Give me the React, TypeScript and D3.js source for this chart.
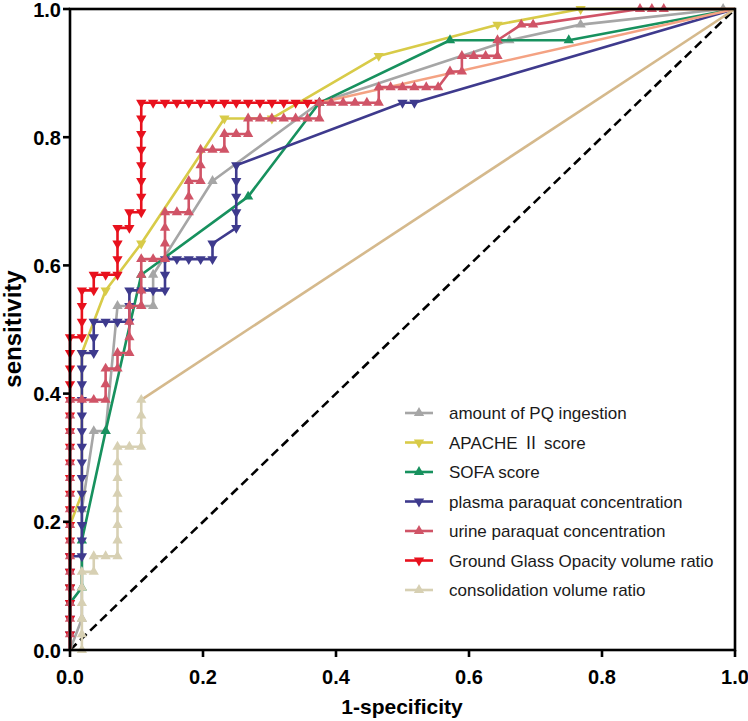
import React from 'react';
import * as d3 from 'd3';

// Totals of negative / positive cases (grid of the ROC steps)
const N_NEG = 56;
const N_POS = 41;

const tickValues = [0, 0.2, 0.4, 0.6, 0.8, 1.0];
const tickLabels = ['0.0', '0.2', '0.4', '0.6', '0.8', '1.0'];

const xTitle = '1-specificity';
const yTitle = 'sensitivity';

// Each point: [false positives, true positives]
const amountPQ: [number, number][] = [
  [0, 0], [1, 2], [1, 9], [2, 14], [3, 14], [4, 22], [5, 22], [6, 22], [7, 22], [7, 24],
  [12, 30], [21, 35], [37, 39], [43, 40], [55, 41], [56, 41],
];

const apache: [number, number][] = [
  [0, 0], [0, 4], [0, 8], [1, 10], [1, 19], [3, 23], [6, 26], [13, 34], [17, 34],
  [26, 38], [36, 40], [43, 41], [56, 41],
];

const sofa: [number, number][] = [
  [0, 0], [0, 3], [1, 4], [1, 7], [3, 14], [6, 24], [15, 29], [21, 35], [32, 39], [42, 39], [56, 41],
];

const plasma: [number, number][] = [
  [0, 0], [0, 1], [0, 2], [0, 3], [0, 4], [0, 5], [0, 6], [1, 6], [1, 7], [1, 8], [1, 9],
  [1, 10], [1, 11], [1, 12], [1, 13], [1, 14], [1, 15], [1, 16], [1, 17], [1, 18], [1, 19],
  [2, 19], [2, 20], [2, 21], [3, 21], [4, 21], [5, 21], [5, 22], [5, 23], [6, 23], [7, 23],
  [8, 23], [8, 24], [8, 25], [9, 25], [10, 25], [11, 25], [12, 25], [12, 26], [14, 27],
  [14, 28], [14, 29], [14, 30], [14, 31], [28, 35], [29, 35], [56, 41],
];

const urine: [number, number][] = [
  [0, 0], [0, 1], [0, 2], [0, 3], [0, 4], [0, 5], [0, 6], [0, 7], [0, 8], [0, 9], [0, 10],
  [0, 11], [0, 12], [0, 13], [0, 14], [0, 15], [0, 16], [1, 16], [2, 16], [3, 16], [3, 17],
  [3, 18], [4, 18], [4, 19], [5, 19], [5, 20], [5, 21], [5, 22], [6, 22], [6, 23], [6, 24],
  [6, 25], [7, 25], [8, 25], [8, 26], [8, 27], [8, 28], [9, 28], [10, 28], [10, 29], [10, 30],
  [11, 30], [11, 31], [11, 32], [12, 32], [13, 32], [13, 33], [14, 33], [15, 33], [15, 34],
  [16, 34], [17, 34], [18, 34], [19, 34], [20, 34], [21, 34], [21, 35], [22, 35], [23, 35],
  [24, 35], [25, 35], [26, 35], [26, 36], [27, 36], [28, 36], [29, 36], [30, 36], [31, 36],
  [32, 37], [33, 37], [33, 38], [34, 38], [35, 38], [36, 38], [36, 39], [38, 40], [39, 40],
  [48, 41], [49, 41], [50, 41], [56, 41],
];

const ggo: [number, number][] = [
  [0, 0], [0, 1], [0, 2], [0, 3], [0, 4], [0, 5], [0, 6], [0, 7], [0, 8], [0, 9], [0, 10],
  [0, 11], [0, 12], [0, 13], [0, 14], [0, 15], [0, 16], [0, 17], [0, 18], [0, 19], [0, 20],
  [1, 20], [1, 21], [1, 22], [1, 23], [2, 23], [2, 24], [3, 24], [4, 24], [4, 25], [4, 26],
  [4, 27], [5, 27], [5, 28], [6, 28], [6, 29], [6, 30], [6, 31], [6, 32], [6, 33], [6, 34],
  [6, 35], [7, 35], [8, 35], [9, 35], [10, 35], [11, 35], [12, 35], [13, 35], [14, 35],
  [15, 35], [16, 35], [17, 35], [18, 35], [19, 35], [20, 35], [21, 35], [56, 41],
];

const consolidation: [number, number][] = [
  [0, 0], [1, 0], [1, 1], [1, 2], [1, 3], [1, 4], [1, 5], [2, 5], [2, 6], [3, 6], [4, 6],
  [4, 7], [4, 8], [4, 9], [4, 10], [4, 11], [4, 12], [4, 13], [5, 13], [6, 13], [6, 14],
  [6, 15], [6, 16], [56, 41],
];

const seriesNames = [
  'amount of PQ ingestion',
  'APACHE \u2161 score',
  'SOFA score',
  'plasma paraquat concentration',
  'urine paraquat concentration',
  'Ground Glass Opacity volume ratio',
  'consolidation volume ratio',
];

type Series = {
  name: string;
  data: [number, number][];
  color: string;
  marker: 'up' | 'down';
  tailColor?: string;
};

const series: Series[] = [
  { name: seriesNames[0], data: amountPQ, color: '#A6A6A6', marker: 'up' },
  { name: seriesNames[1], data: apache, color: '#D8CB48', marker: 'down' },
  { name: seriesNames[2], data: sofa, color: '#17915E', marker: 'up' },
  { name: seriesNames[3], data: plasma, color: '#3E3A8D', marker: 'down' },
  { name: seriesNames[5], data: ggo, color: '#E8111D', marker: 'down', tailColor: '#F4A283' },
  { name: seriesNames[4], data: urine, color: '#D05467', marker: 'up' },
  { name: seriesNames[6], data: consolidation, color: '#D7D0B3', marker: 'up', tailColor: '#D5B98C' },
];

const legendOrder = [0, 1, 2, 3, 5, 4, 6];

const FONT = '"Liberation Sans", Arial, sans-serif';

function LegendText({ name }: { name: string }) {
  const idx = name.indexOf('\u2161');
  if (idx < 0) return <>{name}</>;
  return (
    <>
      {name.slice(0, idx)}
      <tspan fontFamily='"Noto Sans CJK SC", "DejaVu Serif", serif'>{'\u2161'}</tspan>
      {name.slice(idx + 1)}
    </>
  );
}

export default function App() {
  const W = 748;
  const H = 721;
  const x = d3.scaleLinear().domain([0, 1]).range([70, 735]);
  const y = d3.scaleLinear().domain([0, 1]).range([650, 9]);
  const px = (p: [number, number]) => x(p[0] / N_NEG);
  const py = (p: [number, number]) => y(p[1] / N_POS);
  const line = d3.line<[number, number]>().x(px).y(py);
  const tri = d3.symbol().type(d3.symbolTriangle).size(46)() as string;

  const markerPath = (kind: 'up' | 'down', cx: number, cy: number, color: string, key: string) => (
    <path
      key={key}
      d={tri}
      fill={color}
      transform={`translate(${cx},${cy})${kind === 'down' ? ' rotate(180)' : ''}`}
    />
  );

  const legendY0 = 413;
  const legendStep = 29.5;

  return (
    <svg width={W} height={H} style={{ position: 'absolute', left: 0, top: 0, background: '#fff' }}>
      <rect x={0} y={0} width={W} height={H} fill="#fff" />
      {/* chance diagonal */}
      <line
        x1={x(0)} y1={y(0)} x2={x(1)} y2={y(1)}
        stroke="#000" strokeWidth={2.6} strokeDasharray="9,5"
      />
      {series.map((s, si) => {
        const n = s.data.length;
        const main = s.tailColor ? s.data.slice(0, n - 1) : s.data;
        const tail = s.tailColor ? s.data.slice(n - 2) : null;
        return (
          <g key={si}>
            {tail && (
              <path d={line(tail) as string} fill="none" stroke={s.tailColor} strokeWidth={2.6} />
            )}
            <path d={line(main) as string} fill="none" stroke={s.color} strokeWidth={2.6} strokeLinejoin="round" />
            {main.map((p, i) => {
              if ((p[0] === 0 && p[1] === 0) || (p[0] === N_NEG && p[1] === N_POS)) return null;
              return markerPath(s.marker, px(p), py(p), s.color, `m${i}`);
            })}
          </g>
        );
      })}
      {/* frame */}
      <rect x={x(0)} y={y(1)} width={x(1) - x(0)} height={y(0) - y(1)} fill="none" stroke="#000" strokeWidth={2.6} />
      {/* y ticks */}
      {tickValues.map((t, i) => (
        <g key={`yt${i}`}>
          <line x1={x(0) - 7} x2={x(0)} y1={y(t)} y2={y(t)} stroke="#000" strokeWidth={2.6} />
          <text x={x(0) - 9} y={y(t) + 7.5} textAnchor="end" fontFamily={FONT} fontWeight="bold" fontSize={20} fill="#000">
            {tickLabels[i]}
          </text>
        </g>
      ))}
      {/* x ticks */}
      {tickValues.map((t, i) => (
        <g key={`xt${i}`}>
          <line x1={x(t)} x2={x(t)} y1={y(0)} y2={y(0) + 7} stroke="#000" strokeWidth={2.6} />
          <text x={x(t)} y={684} textAnchor="middle" fontFamily={FONT} fontWeight="bold" fontSize={20} fill="#000">
            {tickLabels[i]}
          </text>
        </g>
      ))}
      <text x={402} y={714} textAnchor="middle" fontFamily={FONT} fontWeight="bold" fontSize={21} fill="#000">
        {xTitle}
      </text>
      <text
        transform={`translate(21,329) rotate(-90)`}
        textAnchor="middle" fontFamily={FONT} fontWeight="bold" fontSize={24} fill="#000"
      >
        {yTitle}
      </text>
      {/* legend */}
      {legendOrder.map((si, r) => {
        const s = series[si];
        const cy = legendY0 + r * legendStep;
        return (
          <g key={`lg${r}`}>
            <line x1={405} x2={433} y1={cy} y2={cy} stroke={s.color} strokeWidth={2.6} />
            {markerPath(s.marker, 419, cy, s.color, `lm${r}`)}
            <text x={449} y={cy} dy="0.36em" fontFamily={FONT} fontSize={17} fill="#1a1a1a">
              <LegendText name={s.name} />
            </text>
          </g>
        );
      })}
    </svg>
  );
}
